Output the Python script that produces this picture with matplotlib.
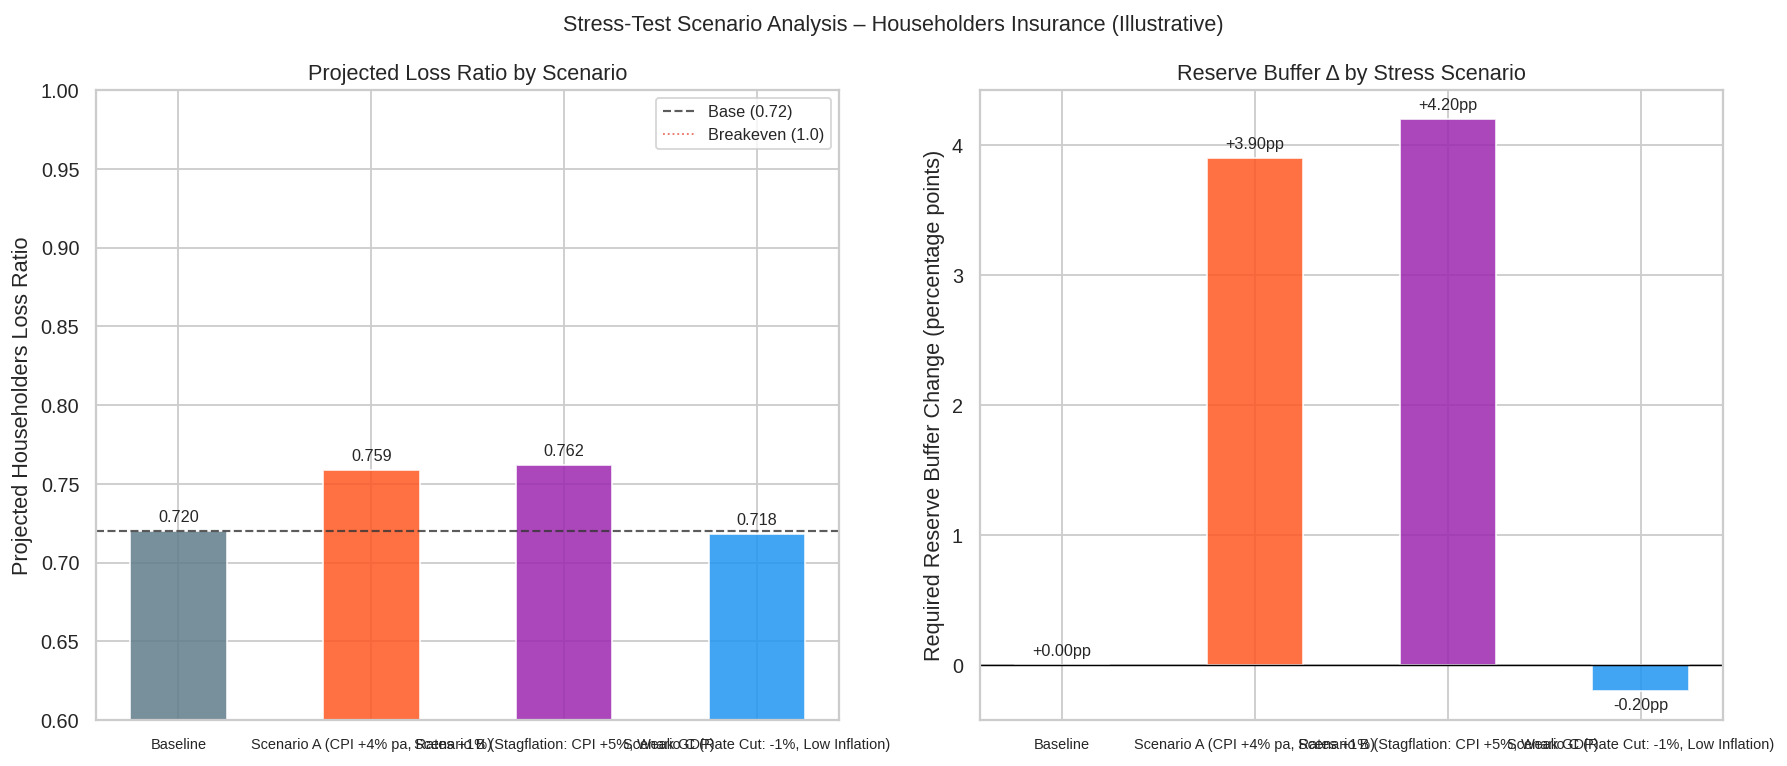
import matplotlib
matplotlib.use('Agg')
import matplotlib.pyplot as plt
import seaborn as sns
import numpy as np

sns.set_theme(style='whitegrid')
plt.rcParams['font.family'] = ['Liberation Sans', 'DejaVu Sans']

scenarios = ['Baseline',
             'Scenario A (CPI +4% pa, Rates +1%)',
             'Scenario B (Stagflation: CPI +5%, Weak GDP)',
             'Scenario C (Rate Cut: -1%, Low Inflation)']
loss_ratio = [0.720, 0.759, 0.762, 0.718]
reserve_delta = [0.00, 3.90, 4.20, -0.20]
colors = ['#607D8B', '#FF5722', '#9C27B0', '#2196F3']
base_lr = 0.72
breakeven = 1.0

fig, (ax1, ax2) = plt.subplots(1, 2, figsize=(1787 / 130, 766.4 / 130), dpi=130)
x = np.arange(len(scenarios))

# left: loss ratio
bars = ax1.bar(x, loss_ratio, width=0.5, color=colors, alpha=0.85, edgecolor='white')
ax1.axhline(base_lr, color='#333333', linestyle='--', linewidth=1.2, alpha=0.8, label='Base (0.72)')
ax1.axhline(breakeven, color='#e74c3c', linestyle=':', linewidth=1.0, alpha=0.8, label='Breakeven (1.0)')
for b, v in zip(bars, loss_ratio):
    ax1.text(b.get_x() + b.get_width() / 2, v + 0.004, f'{v:.3f}', ha='center', va='bottom', fontsize=9)
ax1.set_xticks(x)
ax1.set_xticklabels(scenarios, fontsize=8)
ax1.set_ylim(0.6, 1.0)
ax1.set_ylabel('Projected Householders Loss Ratio')
ax1.set_title('Projected Loss Ratio by Scenario')
ax1.legend(fontsize=9, loc='upper right')

# right: reserve buffer
bars2 = ax2.bar(x, reserve_delta, width=0.5, color=colors, alpha=0.85, edgecolor='white')
ax2.axhline(0, color='black', linewidth=0.8)
for b, v in zip(bars2, reserve_delta):
    if v >= 0:
        ax2.text(b.get_x() + b.get_width() / 2, v + 0.05, f'{v:+.2f}pp', ha='center', va='bottom', fontsize=9)
    else:
        ax2.text(b.get_x() + b.get_width() / 2, v - 0.05, f'{v:+.2f}pp', ha='center', va='top', fontsize=9)
ax2.set_xticks(x)
ax2.set_xticklabels(scenarios, fontsize=8)
ax2.set_ylabel('Required Reserve Buffer Change (percentage points)')
ax2.set_title('Reserve Buffer \u0394 by Stress Scenario')

fig.suptitle('Stress-Test Scenario Analysis \u2013 Householders Insurance (Illustrative)', fontsize=12)
plt.subplots_adjust(left=0.054, right=0.964, bottom=0.06, top=0.882, wspace=0.19)
plt.savefig('out.png', dpi=130)
